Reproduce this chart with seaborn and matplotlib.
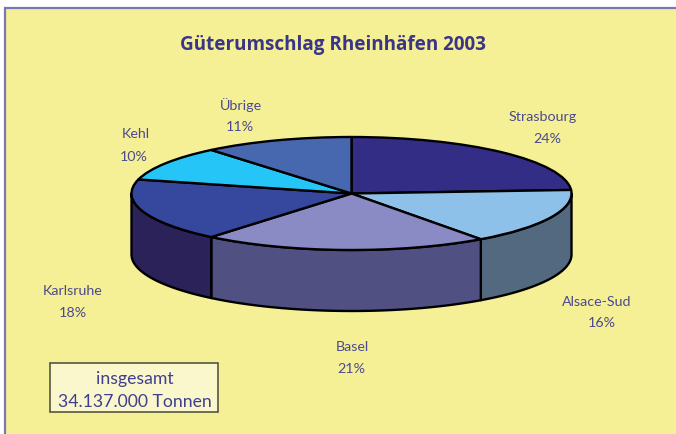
import numpy as np
import matplotlib
matplotlib.use("Agg")
import matplotlib.pyplot as plt
from matplotlib.patches import Rectangle
import seaborn as sns

categories = ["Strasbourg", "Alsace-Sud", "Basel", "Karlsruhe", "Kehl", "Übrige"]
shares = [24, 16, 21, 18, 10, 11]
top_colors = ["#332D85", "#8EC1E9", "#8A8AC4", "#36479E", "#25C6F7", "#4767AE"]
side_colors = ["#221E58", "#52697F", "#515083", "#2A2259", "#188FB3", "#304878"]
title = "Güterumschlag Rheinhäfen 2003"
total_lines = ["insgesamt", "34.137.000 Tonnen"]

W, H = 676, 434
CX, CY, RX, RY, DEPTH = 351.5, 193.5, 220.0, 56.5, 61.0

sns.set_theme(style="white")
plt.rcParams["font.family"] = ["Lato", "DejaVu Sans"]
fig = plt.figure(figsize=(W / 100, H / 100), dpi=100, facecolor="white")

# pixel-space background layer
bg = fig.add_axes([0, 0, 1, 1], zorder=0)
bg.set_xlim(0, W); bg.set_ylim(H, 0); bg.axis("off")
bg.add_patch(Rectangle((5, 8), W, H, facecolor="#F5EF96", edgecolor="#7A78B0", lw=1.6))

# pie layer, unit circle squeezed into an ellipse
ax = fig.add_axes([0, 0, 1, 1], zorder=1)
ax.patch.set_alpha(0)
ax.pie(shares, colors=top_colors, startangle=90, counterclock=False, radius=1,
       wedgeprops=dict(edgecolor="black", linewidth=1.7, zorder=5, joinstyle="round"))
ax.set_aspect("auto")
ax.set_xlim((0 - CX) / RX, (W - CX) / RX)
ax.set_ylim((CY - H) / RY, CY / RY)
ax.axis("off")

# extruded side wall of the pie, front half only (angles between -180 and 0)
d = DEPTH / RY
edges = 90 - np.cumsum([0] + shares) * 3.6
for i, color in enumerate(side_colors):
    a, b = max(edges[i + 1], -180), min(edges[i], 0)
    if b <= a:
        continue
    t = np.radians(np.linspace(a, b, 80))
    x, y = np.cos(t), np.sin(t)
    ax.fill(np.r_[x, x[::-1]], np.r_[y, y[::-1] - d], facecolor=color,
            edgecolor="black", linewidth=1.7, zorder=2, joinstyle="round")

# texts in pixel space on top
fg = fig.add_axes([0, 0, 1, 1], zorder=2)
fg.patch.set_alpha(0)
fg.set_xlim(0, W); fg.set_ylim(H, 0); fg.axis("off")
fg.text(332.5, 45, title, color="#3A3587", fontsize=13.6, fontweight="bold",
        ha="center", va="center", family=["Open Sans", "DejaVu Sans"])

label_pos = [(543, 117), (597, 302), (352, 347), (73, 291), (136, 134), (241, 105)]
value_pos = [(547, 139), (602, 323), (351, 369), (73, 313), (134, 157), (240, 127)]
for name, v, p, q in zip(categories, shares, label_pos, value_pos):
    fg.text(*p, name, color="#4B4A8E", fontsize=10.3, ha="center", va="center")
    fg.text(*q, f"{v}%", color="#4B4A8E", fontsize=10.3, ha="center", va="center")

fg.add_patch(Rectangle((49.5, 363), 168.5, 49, facecolor="#FBF7CC",
                       edgecolor="#55553F", lw=1.2))
fg.text(134.5, 379, total_lines[0], color="#3F3F90", fontsize=12.7, ha="center", va="center")
fg.text(134.5, 402, total_lines[1], color="#3F3F90", fontsize=12.7, ha="center", va="center")

fig.savefig("out.png", dpi=100, facecolor="white")
